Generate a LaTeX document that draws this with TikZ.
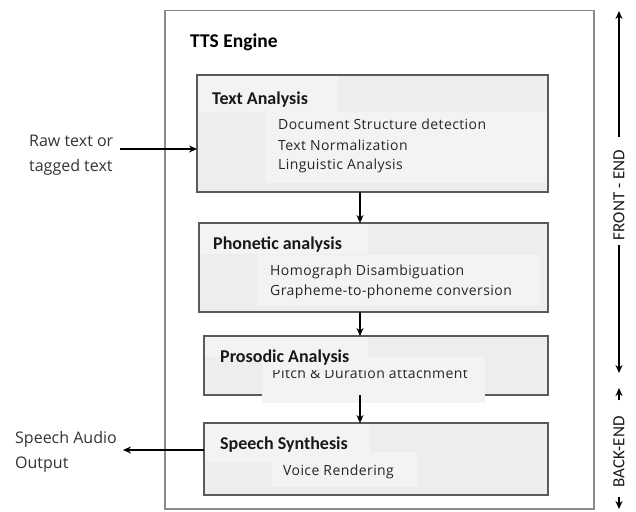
\documentclass[tikz,border=0pt]{standalone}
\usepackage{fontspec}
\setmainfont{Carlito}
\newfontfamily\subfont[LetterSpace=3]{Open Sans}
\newfontfamily\sidefont{Open Sans}
\usetikzlibrary{arrows.meta}
\definecolor{boxfill}{HTML}{EDEDED}
\definecolor{boxlight}{HTML}{F3F3F3}
\definecolor{boxline}{HTML}{5A5A5A}
\definecolor{outerline}{HTML}{8A8A8A}
\begin{document}
\begin{tikzpicture}[x=1pt,y=-1pt,
  stage/.style={draw=boxline, fill=boxfill, line width=1.2pt, anchor=north west, inner sep=0pt, outer sep=0pt},
  stitle/.style={font=\bfseries\fontsize{18}{20}\selectfont, anchor=west, inner sep=0pt, text=black!90},
  item/.style={font=\subfont\fontsize{14}{16}\selectfont, anchor=west, inner sep=0pt, text=black!85},
  side/.style={font=\sidefont\fontsize{16}{25}\selectfont, align=left, anchor=west, inner sep=0pt, text=black!80},
  vlabel/.style={font=\fontsize{17}{18}\selectfont, rotate=90, inner sep=0pt, text=black!90},
  arr/.style={-{Stealth[length=8pt,width=7pt]}, line width=1.5pt},
  lightfill/.style={fill=boxlight, draw=none}]
\useasboundingbox (0,0) rectangle (636,511);

% outer engine box
\node[draw=outerline, line width=1.5pt, minimum width=429pt, minimum height=498pt, anchor=north west, inner sep=0pt] (engine) at (164,10) {};
\node[font=\bfseries\fontsize{19.5}{22}\selectfont, anchor=west, inner sep=0pt] (enginetitle) at (190,42) {TTS Engine};

% Text Analysis
\node[stage, minimum width=351pt, minimum height=117pt] (ta) at (197,75) {};
\fill[lightfill] (198,76) rectangle (338,112);
\fill[lightfill] (265,112) rectangle (547,183);
\node[stitle] (tat) at (212,100) {Text Analysis};
\node[item] (ta1) at (278,124) {Document Structure detection};
\node[item] (ta2) at (278,145) {Text Normalization};
\node[item] (ta3) at (278,166) {Linguistic Analysis};

% Phonetic analysis
\node[stage, minimum width=349pt, minimum height=89pt] (ph) at (199,223) {};
\fill[lightfill] (200,224) rectangle (368,254);
\fill[lightfill] (257,255) rectangle (540,305);
\node[stitle] (pht) at (213,245) {Phonetic analysis};
\node[item] (ph1) at (270,272) {Homograph Disambiguation};
\node[item] (ph2) at (270,292) {Grapheme-to-phoneme conversion};

% Prosodic Analysis
\node[stage, minimum width=344pt, minimum height=59pt] (pr) at (204,336) {};
\fill[lightfill] (205,337) rectangle (368,357);
\fill[lightfill] (262,357) rectangle (485,403);
\node[item, anchor=base west] (pr1) at (272,378) {Pitch \& Duration attachment};
\fill[lightfill] (262,357) rectangle (485,370);
\node[stitle] (prt) at (220,358) {Prosodic Analysis};

% Speech Synthesis
\node[stage, minimum width=344pt, minimum height=72pt] (ss) at (204,423) {};
\fill[lightfill] (205,424) rectangle (370,462);
\fill[lightfill] (272,452) rectangle (417,487);
\node[stitle] (sst) at (220,445) {Speech Synthesis};
\node[item] (ss1) at (283,472) {Voice Rendering};

% flow arrows
\coordinate (mid) at (360,0);
\draw[arr] (ta.south -| mid) -- (ph.north -| mid);
\draw[arr] (ph.south -| mid) -- (pr.north -| mid);
\draw[arr] (pr.south -| mid) -- (ss.north -| mid);

% input / output
\node[side] (raw) at (29,155) {Raw text or\\tagged text};
\coordinate (rawstart) at (120,149);
\draw[arr] (rawstart) -- (rawstart -| ta.west);

\node[side] (out) at (15,452) {Speech Audio\\Output};
\coordinate (outend) at (123,450);
\draw[arr] (outend -| ss.west) -- (outend);

% front-end / back-end
\node[vlabel] (fe) at (619,195) {FRONT - END};
\node[vlabel] (be) at (619,452) {BACK-END};
\coordinate (feA) at (619,137);
\coordinate (feTop) at (619,11);
\coordinate (feB) at (619,245);
\coordinate (feBot) at (619,373);
\draw[arr] (feA) -- (feTop);
\draw[arr] (feB) -- (feBot);
\coordinate (beA) at (619,400);
\coordinate (beTop) at (619,388);
\coordinate (beB) at (619,497);
\coordinate (beBot) at (619,509);
\draw[arr] (beA) -- (beTop);
\draw[arr] (beB) -- (beBot);
\end{tikzpicture}
\end{document}
